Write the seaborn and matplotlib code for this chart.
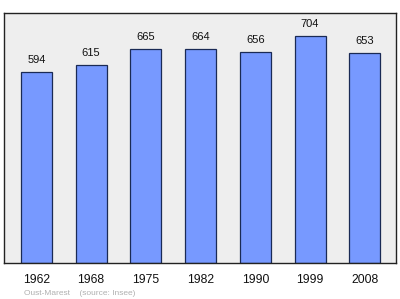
import matplotlib
matplotlib.use("Agg")
import matplotlib.pyplot as plt
import seaborn as sns
import pandas as pd

years = ["1962", "1968", "1975", "1982", "1990", "1999", "2008"]
population = [594, 615, 665, 664, 656, 704, 653]
commune = "Oust-Marest"
source = "(source: Insee)"

sns.set_style("white")
plt.rcParams['font.family'] = ['Liberation Sans', 'DejaVu Sans']

df = pd.DataFrame({"year": years, "pop": population})

fig = plt.figure(figsize=(4.0, 2.99), dpi=100)
ax = fig.add_axes([0.01, 0.1204, 0.98, 0.8361])
ax.set_facecolor("#eeeeee")

sns.barplot(data=df, x="year", y="pop", ax=ax, color="#7799ff",
            saturation=1, width=0.566, edgecolor="#1a2a55", linewidth=0.9)

for i, v in enumerate(population):
    ax.annotate(str(v), (i, v), xytext=(0, 5), textcoords="offset points",
                ha="center", va="bottom", fontsize=8, color="#111111")

ax.set_xlim(-0.593, 6.57)
ax.set_ylim(0, 776)
ax.set_yticks([])
ax.set_xlabel("")
ax.set_ylabel("")
ax.tick_params(axis="x", length=0, pad=8, labelsize=8.8, colors="#111111")
for s in ax.spines.values():
    s.set_visible(True)
    s.set_color("#222222")
    s.set_linewidth(1.0)

fig.text(0.06, 0.0134, commune + "    " + source, fontsize=6, color="#b0b0b0",
         ha="left", va="baseline")

fig.savefig("out.png", dpi=100)
